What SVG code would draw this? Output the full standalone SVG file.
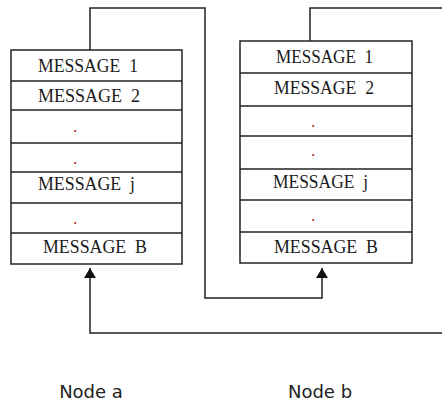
<svg xmlns="http://www.w3.org/2000/svg" width="442" height="405" viewBox="0 0 442 405">
<style>
.box{fill:#fff;stroke:#222;stroke-width:1.5}
.row{stroke:#222;stroke-width:1.5}
.msg{font-family:"Liberation Serif","Times New Roman",serif;font-size:19.5px;fill:#1a1a1a;white-space:pre}
.dot{font-family:"Liberation Serif",serif;font-size:17.5px;fill:#b03020}
.lbl{font-family:"DejaVu Sans",sans-serif;font-size:18px;fill:#222}
.conn{fill:none;stroke:#222;stroke-width:1.5}
</style>
<defs>
<marker id="arr" viewBox="0 0 10 12" refX="10" refY="6" markerWidth="10" markerHeight="12" markerUnits="userSpaceOnUse" orient="auto">
<path d="M0,0 L10,6 L0,12 z" fill="#111"/>
</marker>
</defs>
<rect width="442" height="405" fill="#fff"/>
<g id="connectors">
<path class="conn" d="M90,50 V8 H205 V298 H322 V268" marker-end="url(#arr)"/>
<path class="conn" d="M310,41 V8 H443 M443,333 H90 V268" marker-end="url(#arr)"/>
</g>
<g id="node-a">
<rect class="box" x="11" y="50" width="171" height="214"/>
<line class="row" x1="11" y1="81" x2="182" y2="81"/>
<line class="row" x1="11" y1="110" x2="182" y2="110"/>
<line class="row" x1="11" y1="143" x2="182" y2="143"/>
<line class="row" x1="11" y1="172" x2="182" y2="172"/>
<line class="row" x1="11" y1="203" x2="182" y2="203"/>
<line class="row" x1="11" y1="233" x2="182" y2="233"/>
<text class="msg" x="38" y="72" textLength="100" lengthAdjust="spacingAndGlyphs">MESSAGE  1</text>
<text class="msg" x="38" y="102" textLength="102" lengthAdjust="spacingAndGlyphs">MESSAGE  2</text>
<text class="dot" x="73" y="132">.</text>
<text class="dot" x="73" y="164">.</text>
<text class="msg" x="38" y="190" textLength="97" lengthAdjust="spacingAndGlyphs">MESSAGE  j</text>
<text class="dot" x="73" y="224">.</text>
<text class="msg" x="43" y="253" textLength="104" lengthAdjust="spacingAndGlyphs">MESSAGE  B</text>
<text class="lbl" x="91" y="398" text-anchor="middle">Node a</text>
</g>
<g id="node-b">
<rect class="box" x="240" y="41" width="172" height="222"/>
<line class="row" x1="240" y1="73" x2="412" y2="73"/>
<line class="row" x1="240" y1="106" x2="412" y2="106"/>
<line class="row" x1="240" y1="136" x2="412" y2="136"/>
<line class="row" x1="240" y1="169" x2="412" y2="169"/>
<line class="row" x1="240" y1="200" x2="412" y2="200"/>
<line class="row" x1="240" y1="232" x2="412" y2="232"/>
<text class="msg" x="276" y="63" textLength="97" lengthAdjust="spacingAndGlyphs">MESSAGE  1</text>
<text class="msg" x="274" y="94" textLength="100" lengthAdjust="spacingAndGlyphs">MESSAGE  2</text>
<text class="dot" x="311" y="127">.</text>
<text class="dot" x="311" y="156">.</text>
<text class="msg" x="273" y="188" textLength="95" lengthAdjust="spacingAndGlyphs">MESSAGE  j</text>
<text class="dot" x="311" y="221">.</text>
<text class="msg" x="274" y="253" textLength="104" lengthAdjust="spacingAndGlyphs">MESSAGE  B</text>
<text class="lbl" x="320" y="398" text-anchor="middle">Node b</text>
</g>
</svg>
